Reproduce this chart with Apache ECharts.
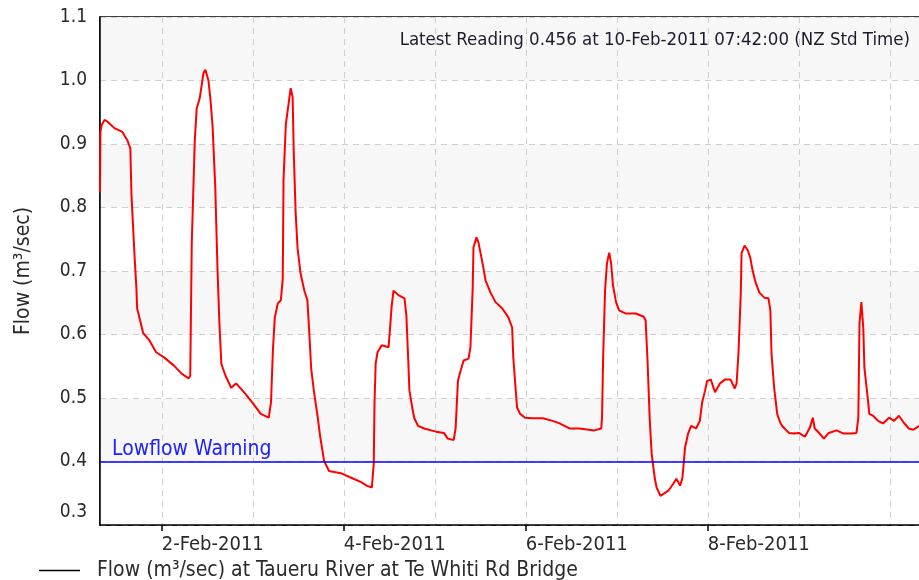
<!DOCTYPE html>
<html>
<head>
<meta charset="utf-8">
<script src="https://cdn.jsdelivr.net/npm/echarts@6/dist/echarts.min.js"></script>
<style>
  html, body { margin: 0; padding: 0; background: #fff; }
  #chart { width: 919px; height: 580px; }
</style>
</head>
<body>
<div id="chart"></div>
<script>
// readings run from 1-Feb-2011 07:42 to 10-Feb-2011 07:42 (NZ Std Time)
const startTime = new Date(2011, 1, 1, 7, 42).getTime();
const endTime = new Date(2011, 1, 10, 7, 42).getTime();

// hours after the first reading
const hours = [
  0, 0.1, 0.45, 1.2, 2.0, 3.8, 5.9, 7.2, 8.0, 8.3, 9.1, 9.6, 9.8, 11.4, 13.0, 14.8,
  16.9, 19.5, 21.6, 23.4, 23.8, 24.2, 25.0, 25.5, 26.3, 27.3, 27.8, 28.6, 29.1, 29.7,
  30.4, 31.0, 31.5, 32.0, 33.1, 34.6, 35.9, 38.3, 40.4, 42.4, 44.5, 45.1, 45.6, 46.1,
  46.9, 47.7, 48.2, 48.4, 49.0, 49.5, 50.3, 50.8, 51.1, 51.6, 52.1, 52.9, 53.9, 54.7,
  55.2, 55.7, 56.5, 57.3, 58.1, 59.1, 60.4, 63.8, 66.4, 69.0, 70.3, 71.7, 72.0, 72.2,
  72.4, 72.7, 73.2, 74.3, 76.1, 76.4, 76.9, 77.4, 78.7, 80.3, 80.8, 81.3, 81.6, 82.4,
  82.9, 83.9, 85.5, 88.6, 90.7, 91.7, 93.3, 93.8, 94.4, 95.1, 95.9, 97.2, 97.7, 98.3,
  98.5, 99.3, 99.8, 100.9, 101.7, 103.0, 104.3, 106.1, 107.7, 108.7, 109.0, 109.5,
  110.0, 110.8, 112.1, 114.2, 116.8, 119.4, 121.2, 123.8, 126.4, 130.4, 132.2, 132.4,
  132.7, 133.2, 133.7, 134.3, 134.8, 135.3, 136.1, 136.9, 138.7, 141.3, 143.4, 143.9,
  144.4, 145.0, 145.5, 146.3, 146.8, 147.8, 149.9, 151.2, 152.0, 153.0, 153.6, 154.3,
  155.1, 155.9, 157.2, 158.2, 158.8, 159.6, 160.1, 161.1, 162.2, 163.5, 164.8, 166.3,
  167.4, 167.9, 168.4, 169.0, 169.2, 170.0, 170.8, 171.5, 172.1, 172.9, 173.9, 175.2,
  176.3, 176.8, 177.1, 177.8, 178.6, 179.4, 179.9, 181.7, 183.0, 184.3, 185.9, 187.2,
  188.0, 188.5, 189.8, 190.9, 192.2, 194.3, 196.1, 198.2, 199.5, 200.0, 200.3, 200.8,
  201.3, 201.6, 202.4, 202.9, 203.9, 205.2, 206.5, 208.1, 209.4, 210.7, 212.0, 213.3,
  214.5, 216.0
];

// flow, m3/sec
const flow = [
  0.824, 0.919, 0.930, 0.938, 0.935, 0.925, 0.919, 0.906, 0.893, 0.820, 0.725, 0.673, 0.641, 0.602, 0.591, 0.572,
  0.564, 0.551, 0.538, 0.531, 0.535, 0.744, 0.906, 0.956, 0.972, 1.012, 1.017, 1.000, 0.972, 0.927,
  0.832, 0.701, 0.617, 0.554, 0.535, 0.516, 0.523, 0.507, 0.491, 0.475, 0.469, 0.493, 0.575, 0.627,
  0.649, 0.654, 0.688, 0.843, 0.930, 0.953, 0.988, 0.974, 0.887, 0.792, 0.736, 0.696, 0.669, 0.654,
  0.602, 0.546, 0.507, 0.475, 0.438, 0.401, 0.385, 0.381, 0.374, 0.367, 0.362, 0.359, 0.359, 0.397,
  0.493, 0.554, 0.572, 0.583, 0.580, 0.602, 0.643, 0.669, 0.662, 0.657, 0.630, 0.559, 0.512, 0.483,
  0.468, 0.456, 0.452, 0.447, 0.445, 0.436, 0.434, 0.453, 0.527, 0.543, 0.559, 0.562, 0.580, 0.674,
  0.737, 0.753, 0.745, 0.712, 0.685, 0.666, 0.651, 0.641, 0.627, 0.611, 0.564, 0.523,
  0.485, 0.475, 0.469, 0.468, 0.468, 0.464, 0.460, 0.452, 0.452, 0.449, 0.452, 0.469,
  0.564, 0.669, 0.712, 0.729, 0.712, 0.677, 0.651, 0.638, 0.633, 0.633, 0.628, 0.622,
  0.559, 0.464, 0.412, 0.374, 0.359, 0.346, 0.354, 0.365, 0.373, 0.362, 0.374, 0.422,
  0.444, 0.456, 0.452, 0.464, 0.493, 0.512, 0.527, 0.529, 0.509, 0.523, 0.529, 0.529,
  0.515, 0.523, 0.572, 0.665, 0.728, 0.740, 0.733, 0.721, 0.701, 0.682, 0.666, 0.658,
  0.657, 0.638, 0.570, 0.516, 0.475, 0.461, 0.456, 0.445, 0.444, 0.445, 0.439, 0.453,
  0.469, 0.452, 0.444, 0.436, 0.445, 0.449, 0.444, 0.444, 0.445, 0.469, 0.617, 0.651,
  0.611, 0.548, 0.504, 0.475, 0.472, 0.464, 0.460, 0.469, 0.464, 0.472, 0.461, 0.452,
  0.450, 0.456
];

const gridDays = [2, 3, 4, 5, 6, 7, 8, 9, 10];
const labelDays = [2, 4, 6, 8];
const lowflowLevel = 0.4;
const seriesName = "Flow (m³/sec) at Taueru River at Te Whiti Rd Bridge";
const latestText = "Latest Reading 0.456 at 10-Feb-2011 07:42:00 (NZ Std Time)";

const font = "Tahoma, 'DejaVu Sans Condensed', 'DejaVu Sans', sans-serif";
const textColor = "#2a2a2a";
const monthNames = ["Jan", "Feb", "Mar", "Apr", "May", "Jun", "Jul", "Aug", "Sep", "Oct", "Nov", "Dec"];

const points = hours.map((h, i) => [startTime + h * 3600 * 1000, flow[i]]);
const labelTimes = labelDays.map((d) => new Date(2011, 1, d).getTime());
const gridTimes = gridDays.map((d) => new Date(2011, 1, d).getTime());

const chart = echarts.init(document.getElementById("chart"));

chart.setOption({
  animation: false,
  textStyle: { fontFamily: font },
  title: {
    text: latestText,
    right: 4,
    top: 26,
    textStyle: { fontFamily: font, fontSize: 18.5, fontWeight: "normal", color: "#1c1c2c" },
  },
  legend: {
    left: 39,
    top: 560,
    padding: 0,
    icon: "rect",
    itemWidth: 41,
    itemHeight: 1.5,
    data: [{ name: seriesName, itemStyle: { color: "#000" } }],
    textStyle: { fontFamily: font, fontSize: 21, color: textColor, padding: [0, 0, 0, 12] },
  },
  grid: {
    left: 100,
    top: 17,
    width: 828,
    height: 508,
    show: true,
    borderColor: "#000",
    borderWidth: 1.5,
    backgroundColor: "#fff",
  },
  xAxis: [
    {
      type: "value",
      min: startTime,
      max: endTime,
      axisLine: { lineStyle: { color: "#000", width: 1.5 } },
      axisTick: { show: true, customValues: labelTimes, length: 6, lineStyle: { color: "#000", width: 1.5 } },
      axisLabel: {
        customValues: labelTimes,
        align: "left",
        margin: 10,
        fontFamily: font,
        fontSize: 20,
        color: textColor,
        formatter: (v) => {
          const d = new Date(v);
          return d.getDate() + "-" + monthNames[d.getMonth()] + "-" + d.getFullYear();
        },
      },
      splitLine: { show: false },
    },
    {
      type: "value",
      min: startTime,
      max: endTime,
      position: "bottom",
      axisLine: { show: false },
      axisTick: { show: false, customValues: gridTimes },
      axisLabel: { show: false },
      splitLine: { show: true, lineStyle: { color: "#cfcfcf", type: [6, 5], width: 1 } },
    },
  ],
  yAxis: {
    type: "value",
    min: 0.3,
    max: 1.1,
    interval: 0.1,
    name: "Flow (m³/sec)",
    nameLocation: "middle",
    nameGap: 66,
    nameTextStyle: { fontFamily: font, fontSize: 21, color: textColor },
    axisLine: { show: true, lineStyle: { color: "#000", width: 1.5 } },
    axisTick: { show: false },
    axisLabel: {
      margin: 13,
      fontFamily: font,
      fontSize: 19,
      color: textColor,
      formatter: (v) => (Math.abs(v - 0.3) < 1e-6 ? "{low|0.3}" : v.toFixed(1)),
      rich: { low: { fontFamily: font, fontSize: 19, color: textColor, padding: [0, 0, 26, 0] } },
    },
    splitLine: { show: true, lineStyle: { color: "#cfcfcf", type: [6, 5], width: 1 } },
    splitArea: { show: true, areaStyle: { color: ["#ffffff", "#f7f7f7"] } },
  },
  series: [
    {
      name: seriesName,
      type: "line",
      xAxisIndex: 0,
      data: points,
      symbol: "none",
      lineStyle: { color: "#ff0000", width: 2 },
      itemStyle: { color: "#ff0000" },
      z: 3,
      markLine: {
        silent: true,
        symbol: ["none", "none"],
        lineStyle: { color: "#0000ff", type: "solid", width: 1.5 },
        label: {
          show: true,
          position: "insideStartTop",
          formatter: "Lowflow Warning",
          fontFamily: font,
          fontSize: 21,
          color: "#2020ff",
          distance: [12, 1],
        },
        data: [{ yAxis: lowflowLevel }],
      },
    },
  ],
});
</script>
</body>
</html>
